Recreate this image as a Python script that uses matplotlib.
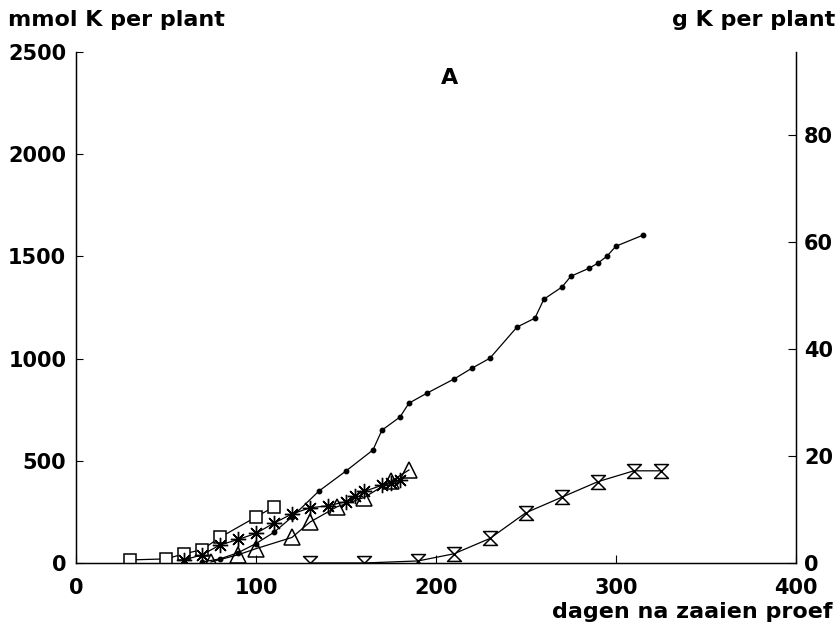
import matplotlib.pyplot as plt
import numpy as np
from matplotlib.path import Path

plt.rcParams['font.family'] = ['DejaVu Sans']
plt.rcParams['font.weight'] = 'bold'

# mmol K per plant against days after sowing
dotDays = [70, 80, 90, 100, 110, 120, 135, 150, 165, 170, 180, 185, 195, 210,
           220, 230, 245, 255, 260, 270, 275, 285, 290, 295, 300, 315]
dotVals = [5, 20, 50, 95, 150, 225, 352, 450, 553, 650, 714, 782, 831, 900,
           953, 1002, 1154, 1198, 1291, 1350, 1403, 1442, 1467, 1501, 1550, 1604]

squareDays = [30, 50, 60, 70, 80, 100, 110]
squareVals = [15, 20, 45, 65, 125, 225, 275]

starDays = [60, 70, 80, 90, 100, 110, 120, 130, 140, 150, 155, 160, 170, 175, 180]
starVals = [15, 40, 88, 115, 145, 195, 240, 270, 280, 300, 330, 350, 380, 390, 405]

triDays = [75, 90, 100, 120, 130, 145, 160, 175, 185]
triVals = [5, 40, 70, 125, 200, 275, 320, 400, 455]

hourDays = [130, 160, 190, 210, 230, 250, 270, 290, 310, 325]
hourVals = [0, 0, 10, 45, 120, 246, 322, 398, 451, 451]

xTicks = [0, 100, 200, 300, 400]
yTicks = [0, 500, 1000, 1500, 2000, 2500]
gTicks = [0, 20, 40, 60, 80]

hourglass = Path([(-1, 1), (1, 1), (-1, -1), (1, -1), (-1, 1)],
                 [Path.MOVETO, Path.LINETO, Path.LINETO, Path.LINETO, Path.CLOSEPOLY])

fig = plt.figure(figsize=(8.38, 6.35), dpi=100)
ax = fig.add_axes([0.0907, 0.1134, 0.859, 0.8046])

lw = 0.9
ax.plot(dotDays, dotVals, color='black', lw=lw, marker='o', ms=3.2)
ax.plot(squareDays, squareVals, color='black', lw=lw, marker='s', ms=9,
        mfc='white', mew=1.1)
ax.plot(starDays, starVals, color='black', lw=lw, marker=(8, 2, 0), ms=11, mew=1.0)
ax.plot(triDays, triVals, color='black', lw=lw, marker='^', ms=12,
        mfc='none', mew=1.1)
ax.plot(hourDays, hourVals, color='black', lw=lw, marker=hourglass, ms=10,
        mfc='white', mew=1.1)

ax.set_xlim(0, 400)
ax.set_ylim(0, 2500)
ax.set_xticks(xTicks)
ax.set_yticks(yTicks)
ax.spines['top'].set_visible(False)
for s in ['left', 'bottom', 'right']:
    ax.spines[s].set_linewidth(1.0)
ax.tick_params(axis='y', direction='in', length=5, labelsize=15, pad=7)
ax.tick_params(axis='x', direction='in', length=6, labelsize=15, pad=11)

ax2 = ax.twinx()
ax2.set_ylim(0, 95.5)
ax2.set_yticks(gTicks)
ax2.spines['top'].set_visible(False)
ax2.tick_params(axis='y', direction='in', length=6, labelsize=15, pad=6)

fig.text(0.010, 0.968, 'mmol K per plant', fontsize=16, fontweight='bold',
         ha='left', va='center')
fig.text(0.997, 0.968, 'g K per plant', fontsize=16, fontweight='bold',
         ha='right', va='center')
fig.text(0.537, 0.877, 'A', fontsize=16, fontweight='bold', ha='center', va='center')
fig.text(0.994, 0.036, 'dagen na zaaien proef', fontsize=16, fontweight='bold',
         ha='right', va='center')

fig.savefig('out.png', dpi=100)
